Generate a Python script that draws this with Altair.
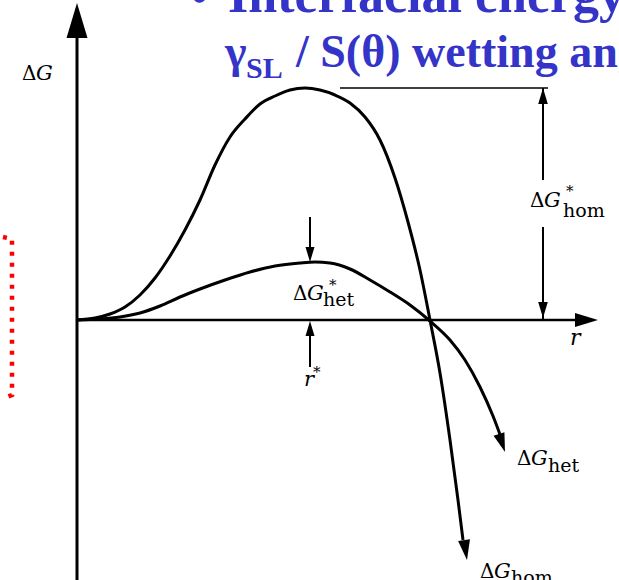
import math
import altair as alt
import pandas as pd

# Free-energy curves for nucleation: r measured from the origin, ΔG in the same schematic units
R_HOM = [0, 18, 33, 48, 63, 78, 93, 108, 123, 138, 153, 168, 183, 198, 213, 228, 243, 258,
         273, 288, 303, 318, 331, 343, 353, 363, 373, 381, 386]
G_HOM = [0, 2, 6, 13, 25, 42, 64, 90, 120, 155, 183, 201, 216, 224, 230, 232, 230, 225,
         217, 203, 180, 142, 98, 50, 0, -53, -120, -180, -220]
TIP_HOM = (390, -240)

R_HET = [0, 23, 43, 63, 83, 103, 123, 148, 173, 198, 223, 238, 253, 273, 293, 313, 333,
         353, 373, 388, 403, 416, 425]
G_HET = [0, 1, 3, 7, 14, 23, 31, 40, 48, 54, 57, 58, 57, 51, 40, 28, 15,
         -1, -20, -40, -67, -96, -120]
TIP_HET = (428, -132)

DG_HOM_STAR = 232
DG_HET_STAR = 58
R_STAR = 233

X_DOM = [-77, 542]
Y_DOM = [-260, 320]

def xs(field):
    return alt.X(field, type="quantitative",
                 scale=alt.Scale(domain=X_DOM, nice=False, zero=False), axis=None)

def ys(field):
    return alt.Y(field, type="quantitative",
                 scale=alt.Scale(domain=Y_DOM, nice=False, zero=False), axis=None)

curves = pd.DataFrame(
    [{"name": "hom", "i": i, "r": r, "g": g} for i, (r, g) in enumerate(zip(R_HOM, G_HOM))]
    + [{"name": "het", "i": i, "r": r, "g": g} for i, (r, g) in enumerate(zip(R_HET, G_HET))]
)

curve_layer = alt.Chart(curves).mark_line(
    color="black", strokeWidth=3, interpolate="monotone"
).encode(x=xs("r"), y=ys("g"), detail="name:N", order="i:Q")

# straight segments: axes and the barrier guides
segments = pd.DataFrame([
    {"r": 0, "g": -260, "r2": 0, "g2": 285, "w": 3},
    {"r": 0, "g": 0, "r2": 503, "g2": 0, "w": 2.5},
    {"r": 263, "g": DG_HOM_STAR, "r2": 471, "g2": DG_HOM_STAR, "w": 1.5},
    {"r": 466, "g": DG_HOM_STAR, "r2": 466, "g2": 140, "w": 2},
    {"r": 466, "g": 93, "r2": 466, "g2": 0, "w": 2},
    {"r": R_STAR, "g": 103, "r2": R_STAR, "g2": DG_HET_STAR + 10, "w": 2},
    {"r": R_STAR, "g": -47, "r2": R_STAR, "g2": -10, "w": 2},
])
seg_layer = alt.Chart(segments).mark_rule(color="black").encode(
    x=xs("r"), y=ys("g"), x2="r2:Q", y2="g2:Q",
    strokeWidth=alt.StrokeWidth("w:Q", scale=None),
)

def heading(frm, tip):
    dx = tip[0] - frm[0]
    dy = tip[1] - frm[1]
    return (math.degrees(math.atan2(dx, dy)) + 360) % 360

ARROW = "M0,0L0.6,2L-0.6,2Z"
heads = pd.DataFrame([
    {"r": 0, "g": 317, "angle": 0, "size": 1225},
    {"r": 521, "g": 0, "angle": 90, "size": 529},
    {"r": 466, "g": DG_HOM_STAR, "angle": 0, "size": 256},
    {"r": 466, "g": 2, "angle": 180, "size": 256},
    {"r": R_STAR, "g": DG_HET_STAR, "angle": 180, "size": 225},
    {"r": R_STAR, "g": -1, "angle": 0, "size": 225},
    {"r": TIP_HOM[0], "g": TIP_HOM[1],
     "angle": heading((R_HOM[-2], G_HOM[-2]), TIP_HOM), "size": 400},
    {"r": TIP_HET[0], "g": TIP_HET[1],
     "angle": heading((R_HET[-2], G_HET[-2]), TIP_HET), "size": 361},
])
head_layer = alt.Chart(heads).mark_point(
    shape=ARROW, filled=True, color="black", opacity=1, strokeWidth=0
).encode(
    x=xs("r"), y=ys("g"),
    angle=alt.Angle("angle:Q", scale=None),
    size=alt.Size("size:Q", scale=None),
)

LABEL_FONT = "DejaVu Serif"
TITLE_FONT = "Times New Roman"

upright = pd.DataFrame([
    {"r": -55, "g": 240, "t": "Δ", "s": 20},
    {"r": 216, "g": 20, "t": "Δ", "s": 20},
    {"r": 252, "g": 30, "t": "*", "s": 15},
    {"r": 246, "g": 14, "t": "het", "s": 19},
    {"r": 453, "g": 113, "t": "Δ", "s": 20},
    {"r": 489, "g": 124, "t": "*", "s": 15},
    {"r": 486, "g": 103, "t": "hom", "s": 19},
    {"r": 440, "g": -145, "t": "Δ", "s": 20},
    {"r": 471, "g": -152, "t": "het", "s": 19},
    {"r": 403, "g": -258, "t": "Δ", "s": 20},
    {"r": 434, "g": -264, "t": "hom", "s": 19},
    {"r": 236, "g": -57, "t": "*", "s": 15},
])
italic = pd.DataFrame([
    {"r": -41, "g": 240, "t": "G", "s": 21},
    {"r": 230, "g": 20, "t": "G", "s": 21},
    {"r": 467, "g": 113, "t": "G", "s": 21},
    {"r": 454, "g": -145, "t": "G", "s": 21},
    {"r": 417, "g": -258, "t": "G", "s": 21},
    {"r": 227, "g": -66, "t": "r", "s": 21},
    {"r": 493, "g": -25, "t": "r", "s": 22},
])

def text_layer(df, **kw):
    return alt.Chart(df).mark_text(
        align="left", baseline="alphabetic", font=LABEL_FONT, color="black", **kw
    ).encode(
        x=xs("r"), y=ys("g"), text="t:N", size=alt.Size("s:Q", scale=None)
    )

BLUE = "#3434c8"
title = pd.DataFrame([
    {"r": 114, "g": 308, "t": "•", "s": 48},
    {"r": 151, "g": 308, "t": "Interfacial energy", "s": 52},
    {"r": 148, "g": 253, "t": "γ", "s": 46},
    {"r": 169, "g": 242, "t": "SL", "s": 30},
    {"r": 219, "g": 253, "t": "/ S(θ) wetting angle", "s": 46},
])
title_layer = alt.Chart(title).mark_text(
    align="left", baseline="alphabetic", font=TITLE_FONT, fontWeight="bold", color=BLUE
).encode(x=xs("r"), y=ys("g"), text="t:N", size=alt.Size("s:Q", scale=None))

bracket = pd.DataFrame({
    "i": [0, 1, 2, 3],
    "r": [-74, -65, -65, -73],
    "g": [83, 81, -75, -78],
})
bracket_layer = alt.Chart(bracket).mark_line(
    color="#ff0000", strokeWidth=4.5, strokeDash=[4, 7]
).encode(x=xs("r"), y=ys("g"), order="i:Q")

chart = alt.layer(
    bracket_layer, seg_layer, curve_layer, head_layer,
    text_layer(upright), text_layer(italic, fontStyle="italic"), title_layer,
).properties(
    width=619, height=580, autosize=alt.AutoSizeParams(type="none"), padding=0
).configure_view(stroke=None)

chart.save("out.html", embed_options={"renderer": "svg", "actions": False})
